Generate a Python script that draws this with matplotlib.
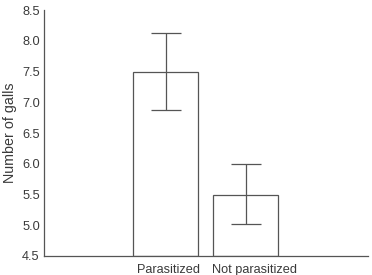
import matplotlib
matplotlib.use("Agg")
import matplotlib.pyplot as plt
import matplotlib.transforms as mtransforms

categories = ["Parasitized", "Not parasitized"]
means = [7.5, 5.5]
err_upper = [0.62, 0.5]
err_lower = [0.62, 0.48]
yticks = [4.5, 5.0, 5.5, 6.0, 6.5, 7.0, 7.5, 8.0, 8.5]

plt.rcParams['font.family'] = ['Liberation Sans', 'DejaVu Sans']
line_col = '#555555'
text_col = '#3a3a3a'

fig = plt.figure(figsize=(3.72, 2.75), dpi=100)
ax = fig.add_axes([0.1183, 0.0691, 0.8707, 0.8945])

x = list(range(len(categories)))
ax.bar(x, [m - 4.5 for m in means], bottom=4.5, width=0.81, color='white',
       edgecolor=line_col, linewidth=0.9)
ax.errorbar(x, means, yerr=[err_lower, err_upper], fmt='none', ecolor=line_col,
            elinewidth=0.9, capsize=11, capthick=0.9)

ax.set_ylim(4.5, 8.5)
ax.set_xlim(-1.515, 2.52)
ax.set_yticks(yticks)
ax.set_yticklabels([f"{v:.1f}" for v in yticks])
ax.set_xticks(x)
ax.set_xticklabels(categories)
ax.tick_params(axis='both', length=0, labelsize=9.2, colors=text_col)
ax.tick_params(axis='x', pad=6)
ax.tick_params(axis='y', pad=3)
for s in ['top', 'right']:
    ax.spines[s].set_visible(False)
for s in ['left', 'bottom']:
    ax.spines[s].set_color(line_col)
    ax.spines[s].set_linewidth(0.9)
ax.set_ylabel("Number of galls", fontsize=10.3, color=text_col, labelpad=4)

shifts_pt = [2.2, 6.0]
for lab, dx in zip(ax.get_xticklabels(), shifts_pt):
    lab.set_transform(lab.get_transform() +
                      mtransforms.ScaledTranslation(dx / 72, 0, fig.dpi_scale_trans))

fig.savefig("out.png", dpi=100)
